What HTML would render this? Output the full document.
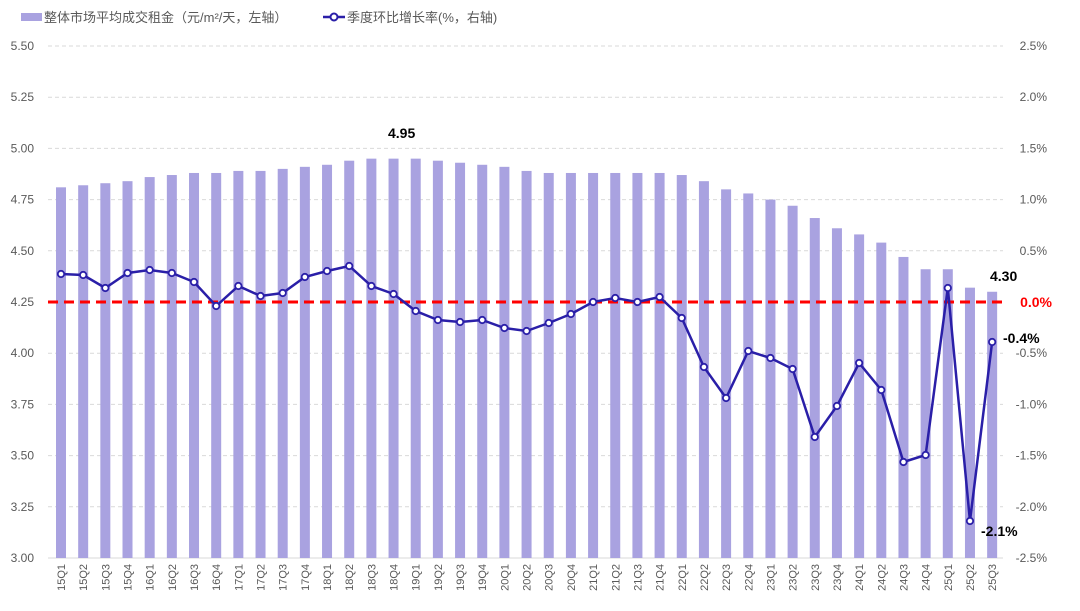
<!DOCTYPE html>
<html><head><meta charset="utf-8"><style>
body{margin:0;background:#fff;}
svg text{font-family:"Liberation Sans","Noto Sans CJK SC",sans-serif;}
</style></head><body>
<svg id="c" width="1080" height="606" xmlns="http://www.w3.org/2000/svg">
<rect x="21" y="13" width="21" height="8" fill="#a9a2e0"/>
<text x="44" y="22" font-size="13" fill="#595959">整体市场平均成交租金（元/m²/天，左轴）</text>
<line x1="323" y1="17" x2="345" y2="17" stroke="#2a1fa8" stroke-width="2.5"/>
<circle cx="334" cy="17" r="3.5" fill="#fff" stroke="#2a1fa8" stroke-width="2"/>
<text x="347" y="22" font-size="13" fill="#595959">季度环比增长率(%，右轴)</text>
</svg>
<script>
const s=document.getElementById('c'),N='http://www.w3.org/2000/svg';
function el(t,a,txt){const e=document.createElementNS(N,t);for(const k in a)e.setAttribute(k,a[k]);if(txt!=null)e.textContent=txt;s.appendChild(e);return e;}
const Y=v=>46+(5.5-v)*204.8;
const lt=['5.50','5.25','5.00','4.75','4.50','4.25','4.00','3.75','3.50','3.25','3.00'];
const rt=['2.5%','2.0%','1.5%','1.0%','0.5%','0.0%','-0.5%','-1.0%','-1.5%','-2.0%','-2.5%'];
for(let i=0;i<11;i++){const y=46+i*51.2;
 if(i<10&&i!=5)el('line',{x1:48,x2:1003,y1:y,y2:y,stroke:'#d9d9d9','stroke-dasharray':'4 3'});
 if(i==10)el('line',{x1:48,x2:1003,y1:y,y2:y,stroke:'#d9d9d9'});
 el('text',{x:34,y:y+4,'font-size':12,'text-anchor':'end',fill:'#595959'},lt[i]);
 if(i==5)el('text',{x:1052,y:y+5,'font-size':14,'text-anchor':'end',fill:'#ff0000','font-weight':'bold'},rt[i]);
 else el('text',{x:1047,y:y+4,'font-size':12,'text-anchor':'end',fill:'#595959'},rt[i]);
}
const bars=[4.81,4.82,4.83,4.84,4.86,4.87,4.88,4.88,4.89,4.89,4.90,4.91,4.92,4.94,4.95,4.95,4.95,4.94,4.93,4.92,4.91,4.89,4.88,4.88,4.88,4.88,4.88,4.88,4.87,4.84,4.80,4.78,4.75,4.72,4.66,4.61,4.58,4.54,4.47,4.41,4.41,4.32,4.30];
const ly=[274,275,288,273,270,273,282,306,286,296,293,277,271,266,286,294,311,320,322,320,328,331,323,314,302,298,302,297,318,367,398,351,358,369,437,406,363,390,462,455,288,521,342];
const X=i=>61+i*22.17;
const labs=[];for(let y=15;y<=25;y++)for(let q=1;q<=4;q++)if(labs.length<43)labs.push(y+'Q'+q);
bars.forEach((v,i)=>{el('rect',{x:X(i)-5,y:Y(v),width:10,height:558-Y(v),fill:'#a9a2e0'});
 el('text',{x:0,y:0,'font-size':11,fill:'#595959','text-anchor':'end',transform:`translate(${X(i)+4},564) rotate(-90)`},labs[i]);});
el('line',{x1:48,x2:1006,y1:302,y2:302,stroke:'#ff0000','stroke-width':3,'stroke-dasharray':'10 6'});
el('polyline',{points:ly.map((y,i)=>X(i)+','+y).join(' '),fill:'none',stroke:'#2a1fa8','stroke-width':2.5});
ly.forEach((y,i)=>el('circle',{cx:X(i),cy:y,r:3.2,fill:'#fff',stroke:'#2a1fa8','stroke-width':1.8}));
el('text',{x:388,y:138,'font-size':14,'font-weight':'bold',fill:'#000'},'4.95');
el('text',{x:990,y:281,'font-size':14,'font-weight':'bold',fill:'#000'},'4.30');
el('text',{x:1003,y:343,'font-size':14,'font-weight':'bold',fill:'#000'},'-0.4%');
el('text',{x:981,y:536,'font-size':14,'font-weight':'bold',fill:'#000'},'-2.1%');
</script>
</body></html>
